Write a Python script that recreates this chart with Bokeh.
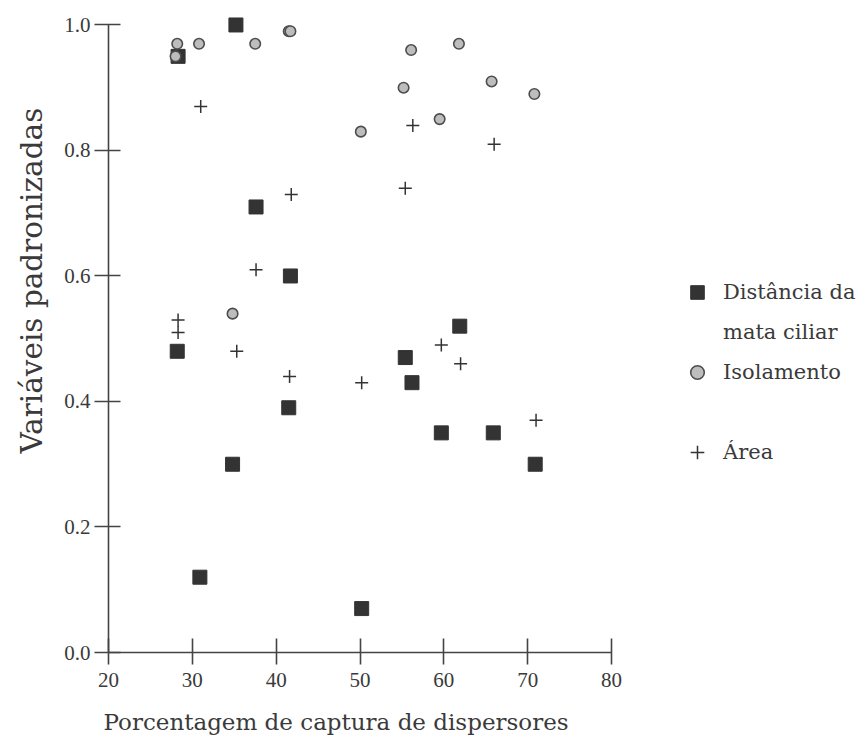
from bokeh.plotting import figure
from bokeh.models import Range1d, FixedTicker, NumeralTickFormatter, Legend, LegendItem, Title
from bokeh.embed import file_html
from bokeh.resources import INLINE

# Distância da mata ciliar (squares)
x_dist = [28.3, 28.2, 30.9, 34.8, 35.2, 37.6, 41.5, 41.7, 50.2, 55.4, 56.2, 59.7, 61.9, 65.9, 70.9]
y_dist = [0.95, 0.48, 0.12, 0.30, 1.00, 0.71, 0.39, 0.60, 0.07, 0.47, 0.43, 0.35, 0.52, 0.35, 0.30]

# Isolamento (circles)
x_iso = [28.0, 28.2, 30.8, 34.8, 37.5, 41.5, 41.7, 50.1, 55.2, 56.1, 59.5, 61.8, 65.7, 70.8]
y_iso = [0.95, 0.97, 0.97, 0.54, 0.97, 0.99, 0.99, 0.83, 0.90, 0.96, 0.85, 0.97, 0.91, 0.89]

# Área (crosses)
x_area = [28.3, 28.3, 31.0, 35.3, 35.2, 37.6, 41.6, 41.8, 50.2, 55.4, 56.3, 59.7, 62.0, 66.0, 71.0]
y_area = [0.53, 0.51, 0.87, 0.48, 1.00, 0.61, 0.44, 0.73, 0.43, 0.74, 0.84, 0.49, 0.46, 0.81, 0.37]

x_ticks = [20, 30, 40, 50, 60, 70, 80]
y_ticks = [0.0, 0.2, 0.4, 0.6, 0.8, 1.0]

x_title = "Porcentagem de captura de dispersores"
y_title = "Variáveis padronizadas"
legend_labels = ["Distância da", "mata ciliar", "Isolamento", " ", "Área"]

INK = "#333333"
TXT = "#3a3a3a"
SERIF = "DejaVu Serif"

p = figure(frame_width=503, frame_height=636,
           x_range=Range1d(20, 80), y_range=Range1d(0, 1.0135),
           output_backend="svg", toolbar_location=None,
           min_border_left=107, min_border_top=16, min_border_right=245, min_border_bottom=90)
p.outline_line_color = None
p.grid.visible = False
p.background_fill_color = "white"
p.border_fill_color = "white"

r_sq = p.scatter(x_dist, y_dist, marker="square", size=14, fill_color=INK, line_color=INK)
r_ci = p.scatter(x_iso, y_iso, marker="circle", size=10.5, fill_color="#bdbdbd", line_color="#4d4d4d", line_width=1.6)
r_pl = p.scatter(x_area, y_area, marker="cross", size=13, line_color=INK, line_width=1.5)
r_blank = p.scatter(x=[], y=[], marker="square", fill_alpha=0, line_alpha=0)

for ax in (p.xaxis[0], p.yaxis[0]):
    ax.axis_line_color = "#444444"
    ax.axis_line_width = 1.6
    ax.major_tick_line_color = "#444444"
    ax.major_tick_line_width = 1.6
    ax.minor_tick_line_color = None
    ax.major_label_text_font = "Liberation Serif"
    ax.major_label_text_font_size = "21px"
    ax.major_label_text_color = TXT

p.xaxis.ticker = FixedTicker(ticks=x_ticks)
p.yaxis.ticker = FixedTicker(ticks=y_ticks)
p.yaxis.formatter = NumeralTickFormatter(format="0.0")
p.xaxis.bounds = (20, 80)
p.yaxis.bounds = (0, 1)
p.xaxis.major_tick_in = 14
p.xaxis.major_tick_out = 12
p.yaxis.major_tick_in = 12
p.yaxis.major_tick_out = 14
p.xaxis.major_label_standoff = 8
p.yaxis.major_label_standoff = 4

p.add_layout(Title(text=y_title, align="left", offset=199, text_font=SERIF, text_font_size="29.5px",
                   text_font_style="normal", text_color=TXT, standoff=25), "left")
p.add_layout(Title(text=x_title, align="left", offset=-5, text_font=SERIF, text_font_size="23px",
                   text_font_style="normal", text_color=TXT, standoff=34), "below")

legend = Legend(items=[
    LegendItem(label=legend_labels[0], renderers=[r_sq]),
    LegendItem(label=legend_labels[1], renderers=[r_blank]),
    LegendItem(label=legend_labels[2], renderers=[r_ci]),
    LegendItem(label=legend_labels[3], renderers=[r_blank]),
    LegendItem(label=legend_labels[4], renderers=[r_pl]),
], location=(69, 183), padding=0, margin=0, spacing=6, glyph_width=34, glyph_height=34,
   label_height=34, label_standoff=9, label_text_font=SERIF, label_text_font_size="21px",
   label_text_color=TXT, border_line_color=None, background_fill_alpha=0)
p.add_layout(legend, "right")

open("out.html", "w").write(file_html(p, INLINE))
